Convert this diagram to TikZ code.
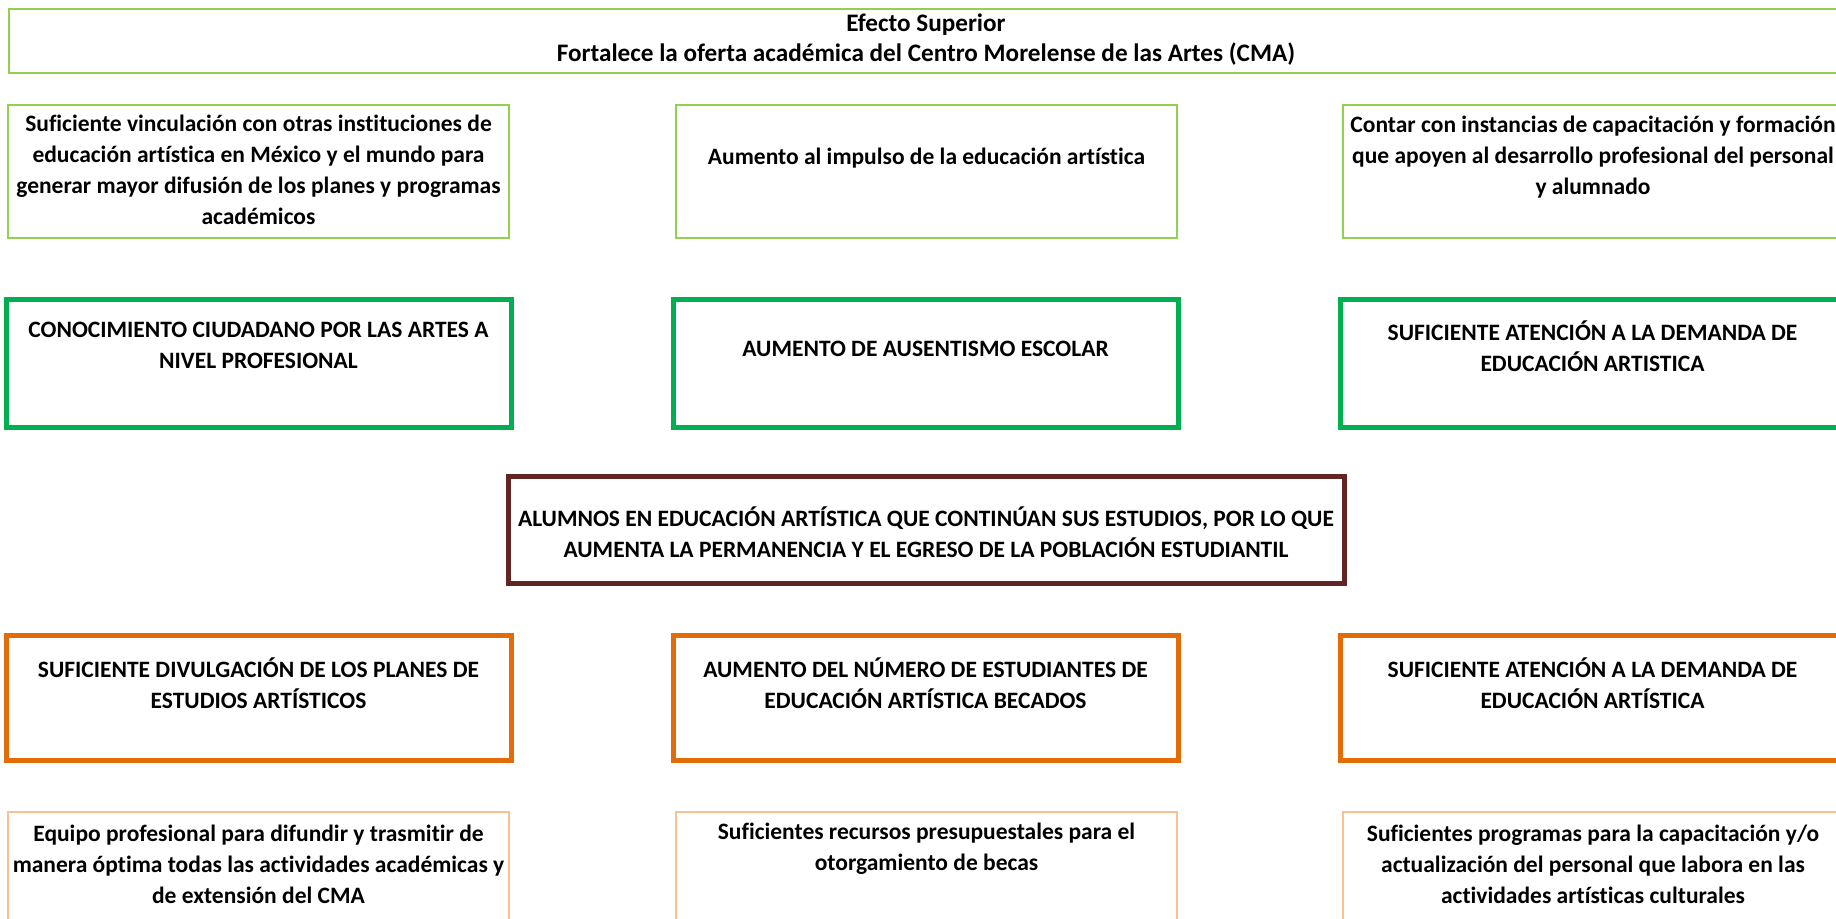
\documentclass[tikz,border=0pt]{standalone}
\usepackage{fontspec}
\setmainfont{Carlito}[Ligatures={NoCommon}]
\definecolor{lgreen}{HTML}{92D050}
\definecolor{dgreen}{HTML}{00B050}
\definecolor{dred}{HTML}{632523}
\definecolor{dorange}{HTML}{E36C09}
\definecolor{lorange}{HTML}{FAC090}
\tikzset{
  box/.style={rectangle, inner sep=0pt, outer sep=0pt, anchor=north west},
  thinbox/.style={box, line width=2pt},
  thickbox/.style={box, line width=5pt},
  txt/.style={align=center, inner sep=0pt, font=\fontsize{23.5}{31}\selectfont\bfseries},
}
\begin{document}
\begin{tikzpicture}[x=1pt,y=-1pt]
\useasboundingbox (0,0) rectangle (1836,918);
\clip (0,0) rectangle (1836,918);
\fill[white] (0,0) rectangle (1836,918);
% top
\node[thinbox, draw=lgreen, minimum width=1836pt, minimum height=64pt] (top) at (9,9) {};
\node[txt, font=\fontsize{25.2}{30}\selectfont\bfseries] (toptxt) at (926,40) {Efecto Superior\\Fortalece la oferta académica del Centro Morelense de las Artes (CMA)};
% row 1
\node[thinbox, draw=lgreen, minimum width=501pt, minimum height=133pt] (a1) at (8,105) {};
\node[thinbox, draw=lgreen, minimum width=501pt, minimum height=133pt] (a2) at (676,105) {};
\node[thinbox, draw=lgreen, minimum width=501pt, minimum height=133pt] (a3) at (1343,105) {};
\node[txt] (a1t) at (258.5,170) {Suficiente vinculación con otras instituciones de\\educación artística en México y el mundo para\\generar mayor difusión de los planes y programas\\académicos};
\node[txt] (a2t) at (926.5,158) {Aumento al impulso de la educación artística};
\node[txt] (a3t) at (1593,157) {Contar con instancias de capacitación y formación\\que apoyen al desarrollo profesional del personal\\y alumnado};
% row 2
\node[thickbox, draw=dgreen, minimum width=505pt, minimum height=128pt] (b1) at (6,299) {};
\node[thickbox, draw=dgreen, minimum width=505pt, minimum height=128pt] (b2) at (673,299) {};
\node[thickbox, draw=dgreen, minimum width=505pt, minimum height=128pt] (b3) at (1340,299) {};
\node[txt] (b1t) at (258.5,345) {CONOCIMIENTO CIUDADANO POR LAS ARTES A\\NIVEL PROFESIONAL};
\node[txt] (b2t) at (925.5,349) {AUMENTO DE AUSENTISMO ESCOLAR};
\node[txt] (b3t) at (1592.5,346) {SUFICIENTE ATENCIÓN A LA DEMANDA DE\\EDUCACIÓN ARTISTICA};
% center
\node[thickbox, draw=dred, minimum width=836pt, minimum height=107pt] (c) at (508,476) {};
\node[txt] (ct) at (926,532) {ALUMNOS EN EDUCACIÓN ARTÍSTICA QUE CONTINÚAN SUS ESTUDIOS, POR LO QUE\\AUMENTA LA PERMANENCIA Y EL EGRESO DE LA POBLACIÓN ESTUDIANTIL};
% row 4
\node[thickbox, draw=dorange, minimum width=505pt, minimum height=125pt] (d1) at (6,635) {};
\node[thickbox, draw=dorange, minimum width=505pt, minimum height=125pt] (d2) at (673,635) {};
\node[thickbox, draw=dorange, minimum width=505pt, minimum height=125pt] (d3) at (1340,635) {};
\node[txt] (d1t) at (258.5,683) {SUFICIENTE DIVULGACIÓN DE LOS PLANES DE\\ESTUDIOS ARTÍSTICOS};
\node[txt] (d2t) at (925.5,683) {AUMENTO DEL NÚMERO DE ESTUDIANTES DE\\EDUCACIÓN ARTÍSTICA BECADOS};
\node[txt] (d3t) at (1592.5,683) {SUFICIENTE ATENCIÓN A LA DEMANDA DE\\EDUCACIÓN ARTÍSTICA};
% row 5
\node[thinbox, draw=lorange, minimum width=501pt, minimum height=140pt] (e1) at (8,812) {};
\node[thinbox, draw=lorange, minimum width=501pt, minimum height=140pt] (e2) at (676,812) {};
\node[thinbox, draw=lorange, minimum width=501pt, minimum height=140pt] (e3) at (1343,812) {};
\node[txt] (e1t) at (258.5,864) {Equipo profesional para difundir y trasmitir de\\manera óptima todas las actividades académicas y\\de extensión del CMA};
\node[txt] (e2t) at (926.5,849) {Suficientes recursos presupuestales para el\\otorgamiento de becas};
\node[txt] (e3t) at (1593,864) {Suficientes programas para la capacitación y/o\\actualización del personal que labora en las\\actividades artísticas culturales};
\end{tikzpicture}
\end{document}
